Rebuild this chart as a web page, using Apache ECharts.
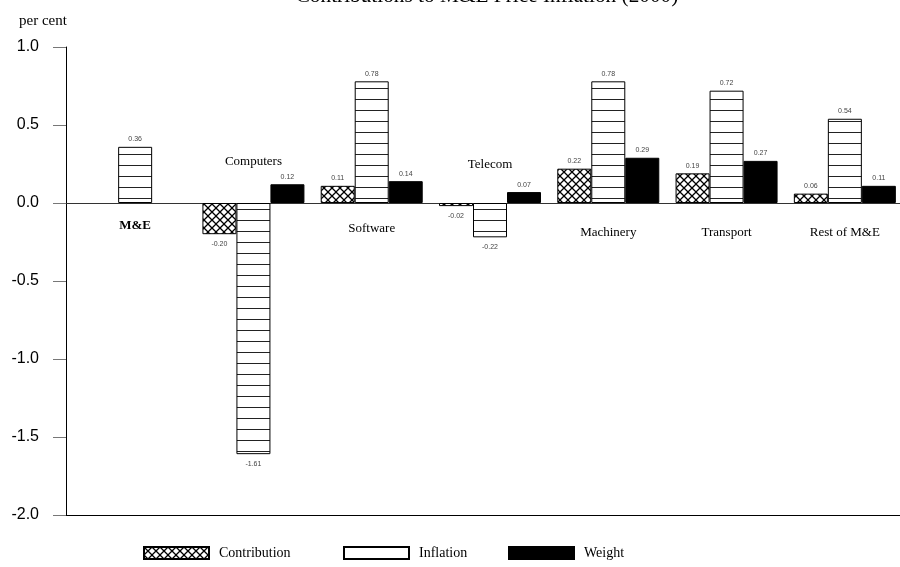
<!DOCTYPE html>
<html>
<head>
<meta charset="utf-8">
<title>Contributions to M&amp;E Price Inflation (2000)</title>
<script src="https://cdn.jsdelivr.net/npm/echarts@6/dist/echarts.min.js"></script>
<style>
  html, body { margin: 0; padding: 0; background: #fff; }
  #chart { width: 900px; height: 567px; }
</style>
</head>
<body>
<div id="chart"></div>
<script>
// Categories and series values (per cent)
const categories = ['M&E', 'Computers', 'Software', 'Telecom', 'Machinery', 'Transport', 'Rest of M&E'];
const contribution = [null, -0.20, 0.11, -0.02, 0.22, 0.19, 0.06];
const inflation = [0.36, -1.61, 0.78, -0.22, 0.78, 0.72, 0.54];
const weight = [null, 0.12, 0.14, 0.07, 0.29, 0.27, 0.11];

// Value axis range and step
const yMin = -2.0;
const yMax = 1.0;
const yStep = 0.5;

// Category names that sit above the zero line
const namesAbove = ['Computers', 'Telecom'];

const SERIF = '"Liberation Serif", "Times New Roman", serif';
const SANS = '"Liberation Sans", Arial, sans-serif';

// Plot box
const PLOT_TOP = 47;
const PLOT_BOTTOM = 52;
const PLOT_HEIGHT = 567 - PLOT_TOP - PLOT_BOTTOM;
// distance from the plot top down to the zero line
const ZERO_DROP = PLOT_HEIGHT * yMax / (yMax - yMin);

// Fill patterns drawn on small canvases
function crossHatch() {
  const s = 8;
  const c = document.createElement('canvas');
  c.width = s; c.height = s;
  const g = c.getContext('2d');
  g.fillStyle = '#fff';
  g.fillRect(0, 0, s, s);
  g.strokeStyle = '#000';
  g.lineWidth = 1.3;
  g.beginPath();
  g.moveTo(-1, -1); g.lineTo(s + 1, s + 1);
  g.moveTo(s + 1, -1); g.lineTo(-1, s + 1);
  g.stroke();
  return c;
}
function hStripes() {
  const w = 4, h = 11;
  const c = document.createElement('canvas');
  c.width = w; c.height = h;
  const g = c.getContext('2d');
  g.fillStyle = '#fff';
  g.fillRect(0, 0, w, h);
  g.strokeStyle = '#222';
  g.lineWidth = 1;
  g.beginPath();
  g.moveTo(0, 0.5); g.lineTo(w, 0.5);
  g.stroke();
  return c;
}

const crossFill = { image: crossHatch(), repeat: 'repeat' };
const stripeFill = { image: hStripes(), repeat: 'repeat' };

// Bar value labels go above positive bars and below negative ones
function withLabels(values) {
  return values.map(v => v == null ? null : {
    value: v,
    label: v < 0 ? { position: 'bottom', distance: 6 } : { position: 'top', distance: 4 }
  });
}

const barLabel = {
  show: true,
  fontFamily: SANS,
  fontSize: 7,
  color: '#444',
  formatter: p => p.value.toFixed(2)
};

function barSeries(name, values, color) {
  return {
    name: name,
    type: 'bar',
    xAxisIndex: 2,
    yAxisIndex: 1,
    barWidth: 34,
    barGap: '0%',
    data: withLabels(values),
    itemStyle: { color: color, borderColor: '#000', borderWidth: 1 },
    label: barLabel,
    emphasis: { disabled: true }
  };
}

function legendAt(name, left) {
  return {
    data: [name],
    left: left,
    top: 546,
    padding: 0,
    icon: 'rect',
    itemWidth: 65,
    itemHeight: 12,
    selectedMode: false,
    textStyle: { fontFamily: SERIF, fontSize: 14, color: '#000', padding: [0, 0, 0, 5] }
  };
}

// A value axis that only provides a scale, drawing nothing
function silentValueAxis(gridIndex, min, max) {
  return {
    gridIndex: gridIndex,
    type: 'value',
    min: min,
    max: max,
    axisLine: { show: false },
    axisTick: { show: false },
    axisLabel: { show: false },
    splitLine: { show: false }
  };
}

// A category axis carrying only the category names
function nameAxis(gridIndex, position, margin, formatter, rich) {
  return {
    gridIndex: gridIndex,
    type: 'category',
    data: categories,
    position: position,
    axisLine: { show: false, onZero: false },
    axisTick: { show: false },
    axisLabel: { show: !!formatter, interval: 0, margin: margin, formatter: formatter, rich: rich },
    splitLine: { show: false }
  };
}

const BAR_LEFT = 76;
const BAR_RIGHT = -4;

const chart = echarts.init(document.getElementById('chart'), null, { renderer: 'canvas' });

chart.setOption({
  animation: false,
  backgroundColor: '#fff',
  title: [
    {
      text: 'Contributions to M&E Price Inflation (2000)',
      left: 482,
      top: -19,
      textAlign: 'center',
      textStyle: { fontFamily: SERIF, fontSize: 21.3, fontWeight: 'normal', color: '#000' }
    },
    {
      text: 'per cent',
      left: 14,
      top: 9,
      textStyle: { fontFamily: SERIF, fontSize: 15, fontWeight: 'normal', color: '#000' }
    }
  ],
  legend: [
    legendAt('Contribution', 143),
    legendAt('Inflation', 343),
    legendAt('Weight', 508)
  ],
  grid: [
    // frame: value axis, zero line and bottom line
    { left: 66, right: 0, top: PLOT_TOP, bottom: PLOT_BOTTOM, outerBoundsMode: 'none' },
    // bars
    { left: BAR_LEFT, right: BAR_RIGHT, top: PLOT_TOP, bottom: PLOT_BOTTOM, outerBoundsMode: 'none' },
    // upper part, its lower edge on the zero line: names below zero
    { left: BAR_LEFT, right: BAR_RIGHT, top: PLOT_TOP, height: ZERO_DROP, outerBoundsMode: 'none' },
    // lower part, its upper edge on the zero line: names above zero
    { left: BAR_LEFT, right: BAR_RIGHT, top: PLOT_TOP + ZERO_DROP, bottom: PLOT_BOTTOM, outerBoundsMode: 'none' }
  ],
  yAxis: [
    {
      gridIndex: 0,
      type: 'value',
      min: yMin,
      max: yMax,
      interval: yStep,
      axisLine: { show: true, lineStyle: { color: '#000', width: 1 } },
      axisTick: { show: true, length: 13, lineStyle: { color: '#777', width: 1 } },
      axisLabel: {
        margin: 27,
        fontFamily: SANS,
        fontSize: 16,
        color: '#000',
        formatter: v => v.toFixed(1)
      },
      splitLine: { show: false }
    },
    silentValueAxis(1, yMin, yMax),
    silentValueAxis(2, 0, 1),
    silentValueAxis(3, 0, 1)
  ],
  xAxis: [
    {
      // zero line
      gridIndex: 0,
      type: 'value',
      min: 0,
      max: 1,
      position: 'bottom',
      axisLine: { show: true, onZero: true, lineStyle: { color: '#333', width: 1 } },
      axisTick: { show: false },
      axisLabel: { show: false },
      splitLine: { show: false }
    },
    {
      // bottom line
      gridIndex: 0,
      type: 'value',
      min: 0,
      max: 1,
      position: 'bottom',
      axisLine: { show: true, onZero: false, lineStyle: { color: '#000', width: 1.2 } },
      axisTick: { show: false },
      axisLabel: { show: false },
      splitLine: { show: false }
    },
    // category axis of the bars
    nameAxis(1, 'bottom', 8, null, null),
    // names below the zero line
    nameAxis(2, 'bottom', 16, function (v) {
      if (namesAbove.indexOf(v) >= 0) return '';
      if (v === 'M&E') return '{b|' + v + '}';
      if (v === 'Software') return '{s|' + v + '}';
      return '{n|' + v + '}';
    }, {
      b: { fontFamily: SERIF, fontSize: 13, fontWeight: 'bold', color: '#000', padding: [0, 0, 0, 0] },
      s: { fontFamily: SERIF, fontSize: 13, color: '#000', padding: [3, 0, 0, 0] },
      n: { fontFamily: SERIF, fontSize: 13, color: '#000', padding: [7, 0, 0, 0] }
    }),
    // names above the zero line
    nameAxis(3, 'top', 32, function (v) {
      if (namesAbove.indexOf(v) < 0) return '';
      return v === 'Computers' ? '{c|' + v + '}' : '{t|' + v + '}';
    }, {
      c: { fontFamily: SERIF, fontSize: 13, color: '#000', padding: [0, 0, 3, 0] },
      t: { fontFamily: SERIF, fontSize: 13, color: '#000', padding: [0, 0, 0, 0] }
    })
  ],
  series: [
    barSeries('Contribution', contribution, crossFill),
    barSeries('Inflation', inflation, stripeFill),
    barSeries('Weight', weight, '#000')
  ]
});
</script>
</body>
</html>
